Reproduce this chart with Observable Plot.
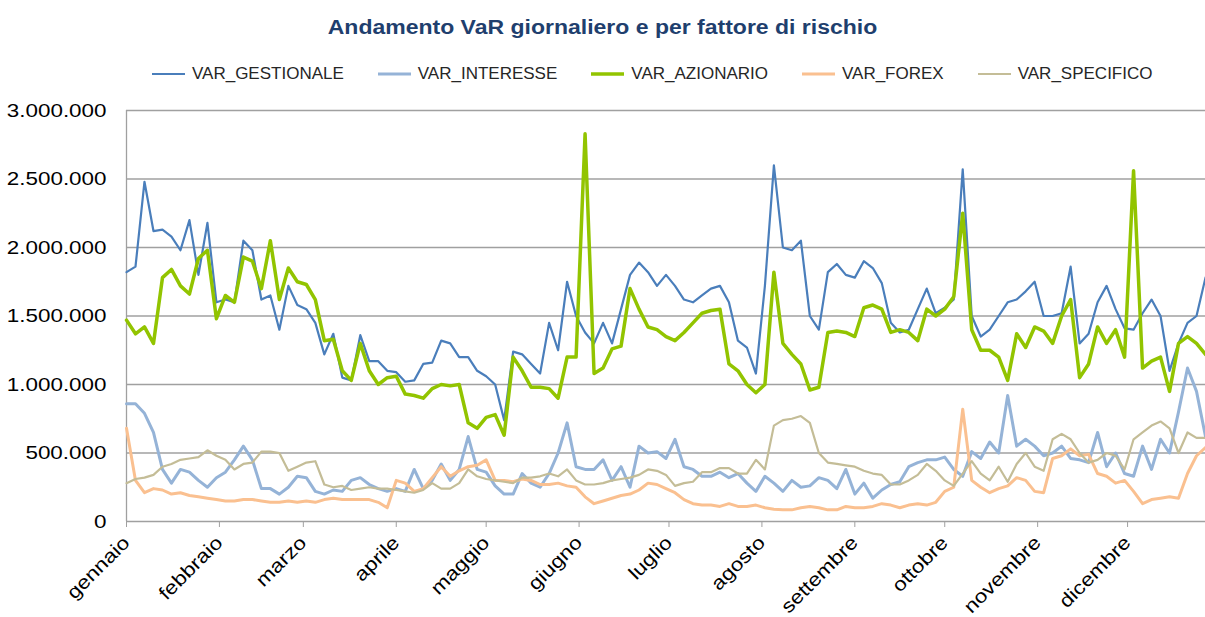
<!DOCTYPE html>
<html><head><meta charset="utf-8">
<script src="https://cdn.jsdelivr.net/npm/d3@7"></script>
<script src="https://cdn.jsdelivr.net/npm/@observablehq/plot@0.6"></script>
<style>
body{margin:0;background:#fff;font-family:"Liberation Sans",Arial,sans-serif;}
#wrap{position:relative;width:1205px;height:617px;overflow:hidden;background:#fff}
#title{position:absolute;top:16px;left:0;width:1205px;text-align:center;font-weight:bold;font-size:20px;color:#1F3F6E;transform:scaleX(1.15);transform-origin:center}
#legend{position:absolute;top:64px;left:152px;display:flex;justify-content:flex-start;gap:34px;font-size:17px;color:#262626;line-height:20px}
#legend .item{display:flex;align-items:center}
#legend svg{margin-right:7px}
#chart{position:absolute;top:90px;left:0}
</style></head>
<body><div id="wrap"><div id="title">Andamento VaR giornaliero e per fattore di rischio</div><div id="legend"></div><div id="chart"></div></div>
<script>
// day of year (0 = 1 gennaio), one sample every 3 days
const days = [0,3,6,9,12,15,18,21,24,27,30,33,36,39,42,45,48,51,54,57,
60,63,66,69,72,75,78,81,84,87,90,93,96,99,102,105,108,111,114,117,
120,123,126,129,132,135,138,141,144,147,150,153,156,159,162,165,168,171,174,177,
180,183,186,189,192,195,198,201,204,207,210,213,216,219,222,225,228,231,234,237,
240,243,246,249,252,255,258,261,264,267,270,273,276,279,282,285,288,291,294,297,
300,303,306,309,312,315,318,321,324,327,330,333,336,339,342,345,348,351,354,357,360];

// values in thousands of euro
const gestionale = [1820,1860,2480,2120,2130,2080,1980,2200,1800,2180,1600,1620,1600,2050,1980,1620,1650,1400,1720,1580,
1550,1450,1220,1370,1050,1030,1360,1170,1170,1100,1090,1020,1030,1150,1160,1320,1300,1200,1200,1100,
1060,1000,740,1240,1220,1150,1080,1450,1250,1750,1500,1380,1300,1450,1300,1550,1800,1890,1820,1720,
1800,1720,1620,1600,1650,1700,1720,1600,1320,1270,1080,1720,2600,2000,1980,2050,1500,1400,1820,1880,
1800,1780,1900,1850,1740,1450,1380,1400,1550,1700,1520,1560,1620,2570,1500,1350,1400,1500,1600,1620,
1680,1750,1500,1500,1520,1860,1300,1370,1600,1720,1550,1410,1400,1520,1620,1500,1100,1300,1450,1500,1780];

const interesse = [860,860,790,650,380,280,380,360,300,250,320,360,450,550,450,240,240,200,250,330,
320,220,200,230,220,300,320,270,240,220,240,220,380,240,300,420,300,380,620,380,
360,260,200,200,350,280,250,350,500,720,400,380,380,450,300,400,250,550,500,510,
460,600,400,380,330,330,360,320,350,280,220,330,280,220,300,250,260,320,300,240,
380,200,280,170,230,270,290,400,430,450,450,470,380,330,510,460,580,500,920,550,
600,550,480,500,550,460,450,430,650,400,500,350,330,550,380,600,500,800,1120,950,620];

const azionario = [1470,1370,1420,1300,1780,1840,1720,1660,1920,1980,1480,1650,1600,1930,1900,1700,2050,1620,1850,1750,
1730,1620,1320,1330,1100,1030,1300,1100,1000,1050,1060,930,920,900,970,1000,990,1000,720,680,
760,780,630,1200,1100,980,980,970,900,1200,1200,2830,1080,1120,1260,1280,1700,1550,1420,1400,
1350,1320,1380,1450,1520,1540,1550,1150,1100,1000,940,1000,1820,1300,1220,1150,960,980,1380,1390,
1380,1350,1560,1580,1550,1380,1400,1380,1320,1550,1500,1550,1640,2250,1400,1250,1250,1200,1030,1370,
1270,1420,1390,1300,1500,1620,1050,1150,1420,1300,1400,1200,2560,1120,1170,1200,950,1300,1350,1300,1220];

const forex = [680,300,210,240,230,200,210,190,180,170,160,150,150,160,160,150,140,140,150,140,
150,140,160,170,160,160,160,160,140,100,300,280,220,240,320,400,330,370,400,410,
450,300,300,290,310,300,270,270,280,260,250,180,130,150,170,190,200,230,280,270,
240,210,160,130,120,120,110,130,110,110,120,100,90,85,85,100,110,100,85,85,
110,100,100,110,130,120,100,120,130,120,140,220,250,820,300,250,210,240,260,320,
300,220,210,460,480,530,480,490,350,330,280,300,220,130,160,170,180,170,350,480,540];

const specifico = [280,310,320,340,400,420,450,460,470,520,480,450,380,420,430,510,510,500,370,400,
430,440,270,250,260,230,240,250,240,240,230,220,210,230,280,240,240,280,380,330,
310,300,290,280,320,320,330,350,330,380,300,270,270,280,300,310,320,340,380,370,
340,260,280,290,360,360,390,390,350,350,450,380,700,740,750,770,720,500,430,420,
410,400,370,350,340,270,270,300,340,420,370,300,260,350,440,350,300,400,290,420,
500,400,370,600,640,600,500,430,450,500,480,380,600,650,700,730,680,500,650,610,610];

const seriesNames = ["VAR_GESTIONALE","VAR_INTERESSE","VAR_AZIONARIO","VAR_FOREX","VAR_SPECIFICO"];
const seriesValues = [gestionale, interesse, azionario, forex, specifico];
const seriesColors = ["#4A7EBB","#95B3D7","#92C400","#FAC090","#C4BD97"];
const seriesWidths = [2.2, 3, 3.5, 3, 2.2];

const monthStarts = [0,31,59,90,120,151,181,212,243,273,304,334];
const monthNames = ["gennaio","febbraio","marzo","aprile","maggio","giugno","luglio","agosto","settembre","ottobre","novembre","dicembre"];
const yTicks = [0,500000,1000000,1500000,2000000,2500000,3000000];

const rows = [];
seriesNames.forEach((name, k) => {
  seriesValues[k].forEach((v, i) => rows.push({s: name, day: days[i], v: v * 1000}));
});

const fmt = d => d3.format(",")(d).replace(/,/g, ".");
const monthOf = new Map(monthStarts.map((d, i) => [d, monthNames[i]]));

const chart = Plot.plot({
  width: 1205, height: 527,
  marginLeft: 126, marginRight: 0, marginTop: 20, marginBottom: 96,
  style: {fontFamily: "'Liberation Sans', Arial, sans-serif", background: "#fff", overflow: "visible"},
  x: {domain: [0, 360], label: null},
  y: {domain: [0, 3000000], label: null},
  marks: [
    Plot.ruleY(yTicks, {stroke: "#a0a0a0", strokeWidth: 1.3}),
    Plot.ruleX([0], {stroke: "#a0a0a0", strokeWidth: 1.3}),
    ...seriesNames.map((name, k) => Plot.line(rows.filter(r => r.s === name), {
      x: "day", y: "v", stroke: seriesColors[k], strokeWidth: seriesWidths[k],
      strokeLinejoin: "round", strokeLinecap: "round"
    })),
    Plot.axisY(yTicks, {tickSize: 0, tickPadding: 20, fontSize: 19, tickFormat: fmt, fill: "#000"}),
    Plot.axisX(monthStarts, {tickSize: 6, tickPadding: 12, tickRotate: -45, fontSize: 19,
      tickFormat: d => monthOf.get(d), stroke: "#a0a0a0", fill: "#000"})
  ]
});
document.getElementById("chart").appendChild(chart);

// widen tick labels horizontally like the reference lettering
chart.querySelectorAll('g[aria-label="y-axis tick label"] text, g[aria-label="x-axis tick label"] text').forEach(t => {
  const len = t.getComputedTextLength();
  t.setAttribute("textLength", (len * 1.18).toFixed(1));
  t.setAttribute("lengthAdjust", "spacingAndGlyphs");
});

const legend = document.getElementById("legend");
seriesNames.forEach((name, k) => {
  const item = document.createElement("div");
  item.className = "item";
  item.innerHTML = `<svg width="33" height="10"><line x1="0" x2="33" y1="5" y2="5" stroke="${seriesColors[k]}" stroke-width="${seriesWidths[k]}"/></svg><span>${name}</span>`;
  legend.appendChild(item);
});
</script></body></html>
